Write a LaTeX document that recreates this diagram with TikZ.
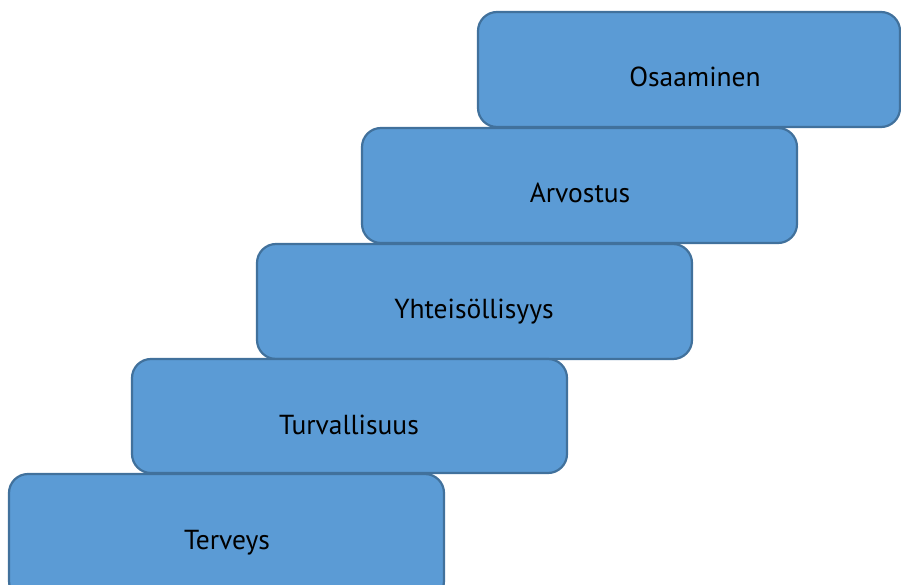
\documentclass[tikz,border=0pt]{standalone}
\usepackage{fontspec}
\setmainfont{PT Sans}
\definecolor{stepfill}{HTML}{5B9BD5}
\definecolor{stepline}{HTML}{41719C}
\begin{document}
\begin{tikzpicture}[x=1pt,y=-1pt,
  stair/.style={draw=stepline, fill=stepfill, line width=2.2pt, rounded corners=19pt},
  stairtext/.style={font=\fontsize{27.5}{33}\selectfont, text=black, inner sep=0pt, anchor=base}]
\useasboundingbox (0,0) rectangle (901,585);
% stair steps, from the top step down; labels sit on a common baseline
\draw[stair] (478,12) rectangle (900,127);
\node[stairtext] (osaaminen) at (695,87) {Osaaminen};
\draw[stair] (362,128) rectangle (797,243);
\node[stairtext] (arvostus) at (580,203) {Arvostus};
\draw[stair] (257,244) rectangle (692,359);
\node[stairtext] (yhteisollisyys) at (474,318) {Yhteisöllisyys};
\draw[stair] (132,359) rectangle (567,473);
\node[stairtext] (turvallisuus) at (349,434) {Turvallisuus};
\draw[stair] (9,474) rectangle (444,600);
\node[stairtext] (terveys) at (227,549) {Terveys};
\end{tikzpicture}
\end{document}
